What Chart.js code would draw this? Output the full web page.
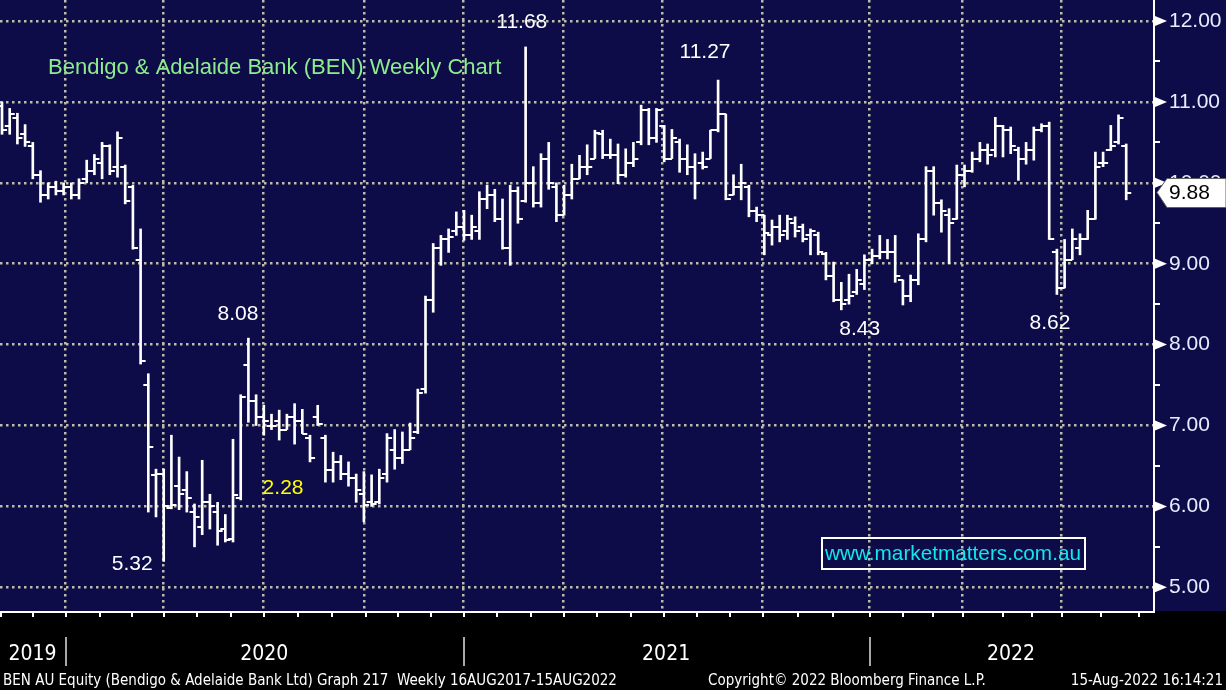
<!DOCTYPE html>
<html>
<head>
<meta charset="utf-8">
<script src="https://cdn.jsdelivr.net/npm/chart.js@4.4.1/dist/chart.umd.min.js"></script>
<style>
  html, body { margin: 0; padding: 0; background: #000; }
</style>
</head>
<body>
<canvas id="chart" width="1226" height="690"></canvas>
<script>
// Weekly OHLC bars, oldest first (early Nov 2019 .. week of 15 Aug 2022)
const opens = [
  10.95, 10.70, 10.80, 10.60, 10.45, 10.10, 9.85, 9.95, 9.90, 9.95,
  9.85, 10.05, 10.15, 10.25, 10.45, 10.20, 10.20, 9.95, 9.05, 7.50,
  6.39, 6.40, 5.98, 6.25, 6.20, 5.93, 5.75, 6.05, 5.93, 5.72,
  5.60, 6.10, 7.75, 7.30, 7.10, 7.00, 7.05, 6.95, 7.10, 7.05,
  6.85, 7.10, 6.85, 6.45, 6.55, 6.40, 6.35, 6.15, 6.05, 6.05,
  6.40, 6.70, 6.60, 6.70, 6.92, 7.45, 8.55, 9.20, 9.30, 9.40,
  9.45, 9.35, 9.40, 9.80, 9.85, 9.55, 9.20, 9.90, 9.78, 10.00,
  9.75, 10.30, 9.95, 9.60, 9.85, 10.05, 10.20, 10.30, 10.60, 10.35,
  10.35, 10.10, 10.25, 10.50, 10.90, 10.55, 10.70, 10.30, 10.50, 10.30,
  10.20, 10.25, 10.30, 10.65, 10.85, 9.85, 9.95, 9.95, 9.65, 9.60,
  9.35, 9.45, 9.40, 9.50, 9.45, 9.35, 9.35, 9.12, 8.85, 8.55,
  8.55, 8.65, 8.75, 9.05, 9.10, 9.15, 9.15, 8.80, 8.60, 8.80,
  9.30, 10.15, 9.75, 9.60, 9.55, 10.10, 10.15, 10.30, 10.40, 10.40,
  10.70, 10.65, 10.40, 10.30, 10.40, 10.65, 10.70, 9.15, 8.70, 9.05,
  9.20, 9.30, 9.55, 10.25, 10.40, 10.50, 10.45
];
const highs = [
  11.00, 10.92, 10.86, 10.72, 10.50, 10.15, 10.00, 10.02, 10.00, 10.00,
  10.05, 10.28, 10.35, 10.50, 10.47, 10.63, 10.22, 9.97, 9.43, 7.64,
  6.46, 6.46, 6.88, 6.61, 6.43, 6.03, 6.57, 6.15, 6.05, 5.90,
  6.83, 7.38, 8.08, 7.38, 7.25, 7.14, 7.19, 7.14, 7.27, 7.20,
  6.88, 7.25, 6.88, 6.67, 6.63, 6.55, 6.40, 6.43, 6.39, 6.46,
  6.90, 6.95, 6.92, 7.03, 7.45, 8.60, 9.25, 9.35, 9.43, 9.64,
  9.66, 9.60, 9.89, 9.97, 9.92, 9.80, 9.97, 9.95, 11.68, 10.20,
  10.36, 10.50, 10.00, 9.97, 10.23, 10.34, 10.47, 10.65, 10.65, 10.54,
  10.48, 10.42, 10.50, 10.96, 10.92, 10.92, 10.71, 10.66, 10.54, 10.47,
  10.36, 10.38, 10.65, 11.27, 10.85, 10.10, 10.23, 9.97, 9.70, 9.60,
  9.54, 9.60, 9.60, 9.58, 9.49, 9.43, 9.39, 9.14, 9.02, 8.77,
  8.87, 8.93, 9.11, 9.18, 9.35, 9.30, 9.35, 8.80, 8.86, 9.37,
  10.20, 10.20, 9.79, 9.68, 10.22, 10.22, 10.38, 10.50, 10.48, 10.81,
  10.71, 10.69, 10.44, 10.50, 10.69, 10.73, 10.75, 9.18, 9.30, 9.43,
  9.37, 9.66, 10.38, 10.38, 10.71, 10.84, 10.48
];
const lows = [
  10.60, 10.60, 10.48, 10.45, 10.05, 9.76, 9.80, 9.85, 9.85, 9.80,
  9.80, 10.00, 10.10, 10.05, 10.10, 10.07, 9.74, 9.18, 7.76, 5.93,
  5.87, 5.32, 5.97, 5.96, 5.93, 5.50, 5.65, 5.72, 5.52, 5.56,
  5.56, 6.08, 7.04, 7.00, 6.88, 6.95, 6.82, 6.95, 6.77, 6.90,
  6.55, 7.00, 6.30, 6.30, 6.33, 6.25, 6.05, 5.81, 6.00, 6.03,
  6.30, 6.46, 6.53, 6.70, 6.90, 7.40, 8.40, 8.98, 9.14, 9.35,
  9.29, 9.30, 9.30, 9.68, 9.52, 9.18, 8.98, 9.50, 9.76, 9.70,
  9.70, 9.92, 9.52, 9.60, 9.80, 10.05, 10.10, 10.30, 10.30, 10.30,
  9.99, 10.07, 10.20, 10.47, 10.47, 10.50, 10.26, 10.30, 10.13, 10.10,
  9.80, 10.17, 10.30, 10.63, 9.79, 9.85, 9.79, 9.58, 9.52, 9.11,
  9.23, 9.27, 9.30, 9.33, 9.27, 9.11, 9.11, 8.80, 8.53, 8.43,
  8.50, 8.62, 8.68, 9.00, 9.06, 9.06, 8.77, 8.49, 8.53, 8.74,
  9.27, 9.60, 9.39, 9.00, 9.55, 9.95, 10.13, 10.26, 10.23, 10.32,
  10.32, 10.36, 10.03, 10.23, 10.28, 10.63, 9.30, 8.62, 8.70, 9.05,
  9.11, 9.30, 9.55, 10.20, 10.40, 10.48, 9.79
];
const closes = [
  10.65, 10.85, 10.55, 10.50, 10.10, 9.85, 9.95, 9.90, 9.95, 9.85,
  10.00, 10.15, 10.30, 10.45, 10.15, 10.55, 9.78, 9.20, 7.80, 6.73,
  6.40, 6.00, 6.02, 6.15, 6.10, 5.87, 6.05, 6.00, 5.70, 5.58,
  6.14, 7.35, 7.30, 7.10, 7.05, 7.00, 6.95, 7.10, 7.05, 6.90,
  6.60, 7.02, 6.45, 6.55, 6.40, 6.35, 6.20, 6.02, 6.03, 6.35,
  6.85, 6.60, 6.70, 6.85, 7.40, 8.55, 9.20, 9.30, 9.33, 9.45,
  9.35, 9.45, 9.80, 9.85, 9.55, 9.20, 9.90, 9.55, 10.00, 9.75,
  10.30, 10.00, 9.60, 9.85, 10.05, 10.20, 10.20, 10.62, 10.35, 10.35,
  10.10, 10.25, 10.30, 10.90, 10.55, 10.90, 10.30, 10.55, 10.30, 10.20,
  10.00, 10.20, 10.65, 10.85, 9.80, 9.95, 10.00, 9.65, 9.60, 9.38,
  9.45, 9.35, 9.55, 9.40, 9.30, 9.40, 9.15, 8.85, 8.55, 8.50,
  8.60, 8.80, 9.05, 9.10, 9.15, 9.15, 8.85, 8.60, 8.80, 9.30,
  10.15, 9.75, 9.65, 9.50, 10.10, 10.15, 10.30, 10.40, 10.35, 10.70,
  10.65, 10.45, 10.30, 10.40, 10.65, 10.70, 9.30, 8.70, 9.05, 9.30,
  9.30, 9.55, 10.20, 10.25, 10.45, 10.80, 9.88
];

const yTicks = [5, 6, 7, 8, 9, 10, 11, 12];
const yMinorTicks = [5.5, 6.5, 7.5, 8.5, 9.5, 10.5, 11.5];
// quarter starts, measured in bar units off the picture
const quarterLines = [8.2, 20.9, 33.9, 47.1, 59.9, 72.9, 85.8, 98.7, 112.6, 124.7, 137.5];
const yearStarts = [8.2, 59.9, 112.6];
const yearLabels = ['2019', '2020', '2021', '2022'];
const monthTicks = [
  -0.3, 3.9, 8.2, 12.6, 16.7, 20.9, 25.2, 29.6, 33.9, 38.3, 42.7, 47.1,
  51.3, 55.6, 59.9, 64.2, 68.6, 72.9, 77.2, 81.5, 85.8, 90.1, 94.4, 98.7,
  103.2, 107.8, 112.6, 116.9, 120.8, 124.7, 129.9, 133.6, 137.5, 142.6, 147.5
];
const lastPrice = 9.88;

// price call-outs: [text, bar position, price level, colour]
const callouts = [
  ['11.68', 67.5, 11.99, '#ffffff'],
  ['11.27', 91.3, 11.62, '#ffffff'],
  ['8.08', 30.65, 8.37, '#ffffff'],
  ['5.32', 16.9, 5.28, '#ffffff'],
  ['8.43', 111.4, 8.19, '#ffffff'],
  ['8.62', 136.1, 8.27, '#ffffff'],
  ['2.28', 36.5, 6.22, '#ffff00']
];

const NAVY = '#0e0c48';
const GRID = '#bcbcaa';
const LABEL = '#e4eeff';
const FONT = '"Liberation Sans", Arial, sans-serif';
const NARROW = '"Liberation Sans Narrow", "DejaVu Sans Condensed", "Liberation Sans", sans-serif';

function tickImage(side) {
  const c = document.createElement('canvas');
  c.width = 12;
  c.height = 2;
  const g = c.getContext('2d');
  g.fillStyle = '#ffffff';
  g.fillRect(side === 'left' ? 1 : 6, 0, 5, 2);
  return c;
}

// no automatic label padding: chart area must run edge to edge
function noPadding(s) {
  s.paddingTop = 0;
  s.paddingBottom = 0;
  s.paddingLeft = 0;
  s.paddingRight = 0;
}

const decor = {
  id: 'decor',
  beforeDraw(chart) {
    const { ctx, chartArea: a, width, height } = chart;
    ctx.save();
    ctx.fillStyle = NAVY;
    ctx.fillRect(0, 0, width, a.bottom);
    ctx.fillStyle = '#000000';
    ctx.fillRect(0, a.bottom, width, height - a.bottom);
    ctx.restore();
  },
  afterDraw(chart) {
    const { ctx, chartArea: a, width } = chart;
    const xs = chart.scales.x, ys = chart.scales.y;
    ctx.save();

    // right axis line, arrows and minor ticks
    ctx.fillStyle = '#ffffff';
    ctx.fillRect(a.right, 0, 2, a.bottom + 1);
    yMinorTicks.forEach(v => {
      const y = Math.round(ys.getPixelForValue(v));
      ctx.fillRect(a.right + 2, y - 1, 5, 2);
    });
    yTicks.forEach(v => {
      const y = ys.getPixelForValue(v);
      ctx.beginPath();
      ctx.moveTo(a.right + 2, y - 5);
      ctx.lineTo(a.right + 14, y);
      ctx.lineTo(a.right + 2, y + 5);
      ctx.closePath();
      ctx.fill();
    });

    // bottom axis line and month ticks
    ctx.fillRect(0, a.bottom, a.right + 2, 2);
    monthTicks.forEach(v => {
      const x = Math.round(xs.getPixelForValue(v));
      if (x >= 0 && x <= a.right) ctx.fillRect(x, a.bottom, 2, 6);
    });

    // year separators and labels
    ctx.fillStyle = '#a8a8a8';
    yearStarts.forEach(v => {
      const x = Math.round(xs.getPixelForValue(v));
      ctx.fillRect(x, 637, 2, 29);
    });
    const edges = [a.left].concat(yearStarts.map(v => xs.getPixelForValue(v)), [a.right]);
    ctx.fillStyle = '#ffffff';
    ctx.font = '21px ' + NARROW;
    ctx.textAlign = 'center';
    ctx.textBaseline = 'middle';
    yearLabels.forEach((t, i) => {
      ctx.fillText(t, (edges[i] + edges[i + 1]) / 2, 655);
    });

    // footer
    ctx.font = '15px ' + NARROW;
    ctx.textAlign = 'left';
    ctx.fillText('BEN AU Equity (Bendigo & Adelaide Bank Ltd) Graph 217  Weekly 16AUG2017-15AUG2022', 3, 681, 640);
    ctx.fillText('Copyright\u00A9 2022 Bloomberg Finance L.P.', 708, 681, 290);
    ctx.textAlign = 'right';
    ctx.fillText('15-Aug-2022 16:14:21', 1223, 681, 165);

    // title
    ctx.fillStyle = '#8ded8d';
    ctx.font = '22px ' + FONT;
    ctx.textAlign = 'left';
    ctx.fillText('Bendigo & Adelaide Bank (BEN) Weekly Chart', 48, 68);

    // call-outs
    ctx.font = '21px ' + FONT;
    ctx.textAlign = 'center';
    callouts.forEach(([t, bx, p, col]) => {
      ctx.fillStyle = col;
      ctx.fillText(t, xs.getPixelForValue(bx), ys.getPixelForValue(p));
    });

    // watermark
    ctx.strokeStyle = '#ffffff';
    ctx.lineWidth = 2;
    ctx.strokeRect(822, 538, 263, 31);
    ctx.fillStyle = '#12e6ee';
    ctx.font = '21px ' + FONT;
    ctx.fillText('www.marketmatters.com.au', 953, 554, 256);

    // last price box
    const py = ys.getPixelForValue(lastPrice);
    ctx.fillStyle = '#ffffff';
    ctx.strokeStyle = '#606060';
    ctx.lineWidth = 1;
    ctx.beginPath();
    ctx.moveTo(a.right + 4, py);
    ctx.lineTo(a.right + 14, py - 14);
    ctx.lineTo(width, py - 14);
    ctx.lineTo(width, py + 15);
    ctx.lineTo(a.right + 14, py + 15);
    ctx.closePath();
    ctx.fill();
    ctx.stroke();
    ctx.fillStyle = '#000000';
    ctx.textAlign = 'left';
    ctx.fillText(lastPrice.toFixed(2), a.right + 16, py + 1);

    ctx.restore();
  }
};

new Chart(document.getElementById('chart'), {
  type: 'bar',
  data: {
    datasets: [
      {
        label: 'High-Low',
        data: highs.map((h, i) => ({ x: i, y: [lows[i], h] })),
        backgroundColor: '#ffffff',
        borderWidth: 0,
        barThickness: 2
      },
      {
        type: 'line',
        label: 'Open',
        data: opens.map((o, i) => ({ x: i, y: o })),
        showLine: false,
        pointStyle: tickImage('left'),
        pointRadius: 5,
        pointHoverRadius: 5
      },
      {
        type: 'line',
        label: 'Close',
        data: closes.map((c, i) => ({ x: i, y: c })),
        showLine: false,
        pointStyle: tickImage('right'),
        pointRadius: 5,
        pointHoverRadius: 5
      }
    ]
  },
  options: {
    responsive: false,
    animation: false,
    layout: { padding: 0, autoPadding: false },
    plugins: { legend: { display: false }, tooltip: { enabled: false } },
    scales: {
      x: {
        type: 'linear',
        min: -0.26,
        max: 149.48,
        offset: false,
        ticks: { display: false },
        grid: { color: GRID, lineWidth: 2.5, drawTicks: false, offset: false },
        border: { display: false, dash: [2.5, 3.5] },
        afterBuildTicks: s => { s.ticks = quarterLines.map(v => ({ value: v })); },
        afterFit: s => { s.height = 79; noPadding(s); }
      },
      y: {
        position: 'right',
        min: 4.707,
        max: 12.26,
        ticks: {
          includeBounds: false,
          color: LABEL,
          font: { family: FONT, size: 21 },
          padding: 16,
          callback: v => Number(v).toFixed(2)
        },
        grid: { color: GRID, lineWidth: 2.5, drawTicks: false },
        border: { display: false, dash: [2.5, 3.5] },
        afterBuildTicks: s => { s.ticks = yTicks.map(v => ({ value: v })); },
        afterFit: s => { s.width = 73; noPadding(s); }
      }
    }
  },
  plugins: [decor]
});
</script>
</body>
</html>
